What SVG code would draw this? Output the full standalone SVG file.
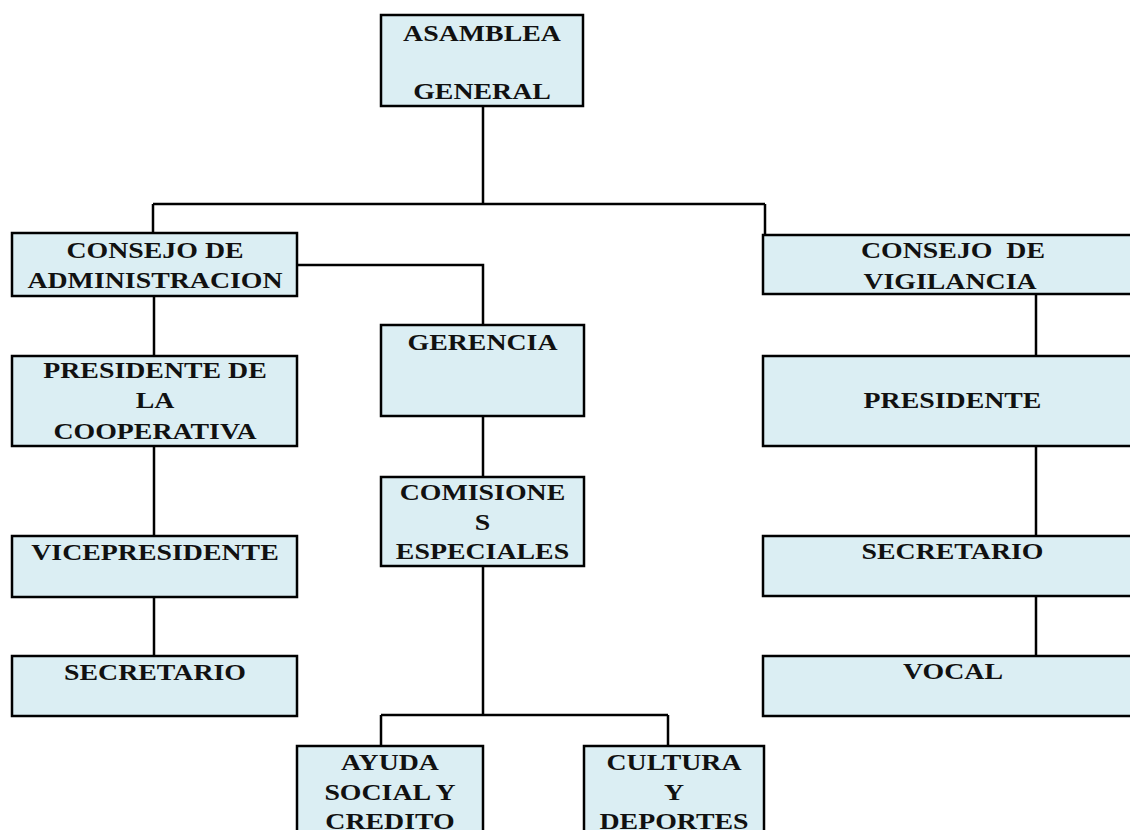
<svg xmlns="http://www.w3.org/2000/svg" width="1130" height="830" viewBox="0 0 1130 830">
<style>
.box{fill:#DBEEF3;stroke:#000;stroke-width:2.5}
.t{font-family:"Liberation Serif","Times New Roman",serif;font-weight:bold;font-size:24px;fill:#111;text-anchor:middle;white-space:pre}
.c{fill:none;stroke:#000;stroke-width:2.5}
</style>
<rect width="1130" height="830" fill="#fff"/>
<g id="connectors" class="c">
<path d="M483,106V204M153,204H765M153,204V233M765,204V235"/>
<path d="M297,265H483V325"/>
<path d="M154,296V356M154,446V536M154,597V656"/>
<path d="M483,416V477M483,566V715M381,715H668M381,715V746M668,715V746"/>
<path d="M1036,294V356M1036,446V536M1036,596V656"/>
</g>
<g id="asamblea">
<rect class="box" x="381" y="15" width="202" height="91"/>
<text class="t" transform="translate(482,41) scale(1.16,1)">ASAMBLEA</text>
<text class="t" transform="translate(482,99) scale(1.16,1)">GENERAL</text>
</g>
<g id="consejo-admin">
<rect class="box" x="12" y="233" width="285" height="63"/>
<text class="t" transform="translate(155,258) scale(1.16,1)">CONSEJO DE</text>
<text class="t" transform="translate(155,288) scale(1.16,1)">ADMINISTRACION</text>
</g>
<g id="presidente-coop">
<rect class="box" x="12" y="356" width="285" height="90"/>
<text class="t" transform="translate(155,378) scale(1.16,1)">PRESIDENTE DE</text>
<text class="t" transform="translate(155,408) scale(1.16,1)">LA</text>
<text class="t" transform="translate(155,439) scale(1.16,1)">COOPERATIVA</text>
</g>
<g id="vicepresidente">
<rect class="box" x="12" y="536" width="285" height="61"/>
<text class="t" transform="translate(155,560) scale(1.16,1)">VICEPRESIDENTE</text>
</g>
<g id="secretario-admin">
<rect class="box" x="12" y="656" width="285" height="60"/>
<text class="t" transform="translate(155,680) scale(1.16,1)">SECRETARIO</text>
</g>
<g id="gerencia">
<rect class="box" x="381" y="325" width="203" height="91"/>
<text class="t" transform="translate(482.5,350) scale(1.16,1)">GERENCIA</text>
</g>
<g id="comisiones">
<rect class="box" x="381" y="477" width="203" height="89"/>
<text class="t" transform="translate(482.5,500) scale(1.16,1)">COMISIONE</text>
<text class="t" transform="translate(482.5,530) scale(1.16,1)">S</text>
<text class="t" transform="translate(482.5,559) scale(1.16,1)">ESPECIALES</text>
</g>
<g id="ayuda">
<rect class="box" x="297" y="746" width="186" height="100"/>
<text class="t" transform="translate(390,770) scale(1.16,1)">AYUDA</text>
<text class="t" transform="translate(390,800) scale(1.16,1)">SOCIAL Y</text>
<text class="t" transform="translate(390,829) scale(1.16,1)">CREDITO</text>
</g>
<g id="cultura">
<rect class="box" x="584" y="746" width="180" height="100"/>
<text class="t" transform="translate(674,770) scale(1.16,1)">CULTURA</text>
<text class="t" transform="translate(674,800) scale(1.16,1)">Y</text>
<text class="t" transform="translate(674,829) scale(1.16,1)">DEPORTES</text>
</g>
<g id="consejo-vigilancia">
<rect class="box" x="763" y="235" width="380" height="59"/>
<text class="t" transform="translate(953,258) scale(1.16,1)">CONSEJO  DE</text>
<text class="t" transform="translate(950,289) scale(1.16,1)">VIGILANCIA</text>
</g>
<g id="presidente-vig">
<rect class="box" x="763" y="356" width="380" height="90"/>
<text class="t" transform="translate(952.5,408) scale(1.16,1)">PRESIDENTE</text>
</g>
<g id="secretario-vig">
<rect class="box" x="763" y="536" width="380" height="60"/>
<text class="t" transform="translate(952.5,559) scale(1.16,1)">SECRETARIO</text>
</g>
<g id="vocal">
<rect class="box" x="763" y="656" width="380" height="60"/>
<text class="t" transform="translate(953,679) scale(1.16,1)">VOCAL</text>
</g>
</svg>
